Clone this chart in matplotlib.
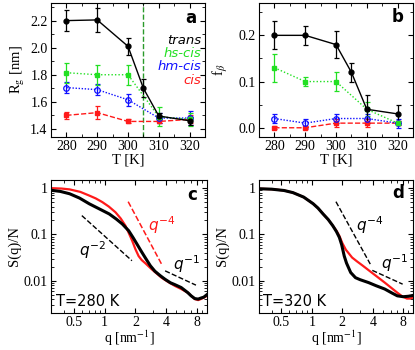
import matplotlib
matplotlib.use("Agg")
import numpy as np
from matplotlib import pyplot as plt
from matplotlib.ticker import MultipleLocator, FixedLocator, NullFormatter, LogLocator

plt.rcParams['font.family'] = ['Liberation Serif', 'DejaVu Serif']
plt.rcParams['mathtext.fontset'] = 'stix'
plt.rcParams['xtick.direction'] = 'in'
plt.rcParams['ytick.direction'] = 'in'

# ---- panel a / b data ----
T = [280, 290, 300, 310, 320]
T_trans = [280, 290, 300, 305, 310, 320]

rg_trans = [2.20, 2.205, 2.01, 1.70, 1.495, 1.46]
rg_trans_err = [0.08, 0.09, 0.065, 0.067, 0.02, 0.03]
rg_hs = [1.815, 1.80, 1.80, 1.49, 1.47]
rg_hs_err = [0.075, 0.075, 0.075, 0.07, 0.05]
rg_hm = [1.705, 1.69, 1.615, 1.48, 1.48]
rg_hm_err = [0.04, 0.04, 0.045, 0.04, 0.05]
rg_cis = [1.50, 1.52, 1.455, 1.455, 1.47]
rg_cis_err = [0.025, 0.05, 0.015, 0.01, 0.03]

fb_trans = [0.20, 0.20, 0.18, 0.12, 0.04, 0.03]
fb_trans_err = [0.03, 0.02, 0.03, 0.02, 0.03, 0.02]
fb_hs = [0.13, 0.10, 0.10, 0.04, 0.01]
fb_hs_err = [0.03, 0.01, 0.02, 0.015, 0.005]
fb_hm = [0.02, 0.01, 0.02, 0.02, 0.01]
fb_hm_err = [0.01, 0.01, 0.01, 0.01, 0.01]
fb_cis = [0.0, 0.0, 0.01, 0.01, 0.01]
fb_cis_err = [0.003, 0.003, 0.008, 0.008, 0.005]

# ---- panel c (T=280 K) ----
q_c_black = [0.3, 0.37, 0.456, 0.57, 0.71, 0.88, 1.11, 1.3, 1.49, 1.72, 1.9, 2.07, 2.27, 2.49,
             2.8, 3.1, 3.5, 3.9, 4.4, 4.86, 5.6, 6.5, 7.0, 7.6, 8.2, 8.7, 9.3, 10.0]
s_c_black = [0.90, 0.85, 0.756, 0.61, 0.458, 0.36, 0.277, 0.215, 0.168, 0.12, 0.085, 0.062, 0.044, 0.0316,
             0.021, 0.016, 0.0128, 0.0107, 0.0090, 0.0082, 0.0071, 0.0055, 0.0047, 0.0041, 0.0040, 0.0042, 0.0044, 0.0050]
q_c_red = [0.3, 0.38, 0.456, 0.58, 0.71, 0.82, 0.95, 1.1, 1.28, 1.44, 1.6, 1.73, 1.86, 2.0, 2.15,
           2.3, 2.49, 2.88, 3.6, 4.2, 4.86, 5.6, 6.5, 7.0, 7.6, 8.2, 8.7, 9.3, 10.0]
s_c_red = [1.0, 0.98, 0.94, 0.83, 0.69, 0.6, 0.50, 0.40, 0.30, 0.22, 0.154, 0.105, 0.073, 0.048, 0.034,
           0.028, 0.024, 0.0177, 0.0116, 0.0093, 0.0077, 0.0066, 0.0055, 0.0047, 0.0040, 0.0038, 0.0040, 0.0043, 0.0047]

# ---- panel d (T=320 K) ----
q_d_black = [0.3, 0.4, 0.53, 0.65, 0.83, 1.03, 1.15, 1.29, 1.45, 1.61, 1.75, 1.87, 1.97, 2.09, 2.2,
             2.42, 2.7, 3.0, 3.63, 4.3, 5.25, 6.2, 7.0, 8.0, 9.0, 10.0]
s_d_black = [0.97, 0.95, 0.89, 0.80, 0.64, 0.46, 0.37, 0.277, 0.21, 0.154, 0.115, 0.086, 0.060, 0.034, 0.024,
             0.015, 0.0116, 0.0105, 0.0091, 0.0078, 0.0066, 0.0054, 0.0047, 0.0045, 0.0046, 0.0048]
q_d_red = [0.3, 0.4, 0.53, 0.65, 0.83, 1.03, 1.15, 1.29, 1.45, 1.61, 1.75, 1.87, 2.0, 2.17, 2.5,
           2.8, 3.13, 3.5, 3.9, 4.5, 5.25, 6.0, 7.0, 7.8, 8.7, 9.3, 10.0]
s_d_red = [0.97, 0.95, 0.89, 0.80, 0.64, 0.46, 0.37, 0.277, 0.21, 0.154, 0.12, 0.093, 0.065, 0.0465, 0.0316,
           0.026, 0.0217, 0.018, 0.015, 0.0118, 0.0091, 0.0072, 0.0055, 0.0046, 0.0041, 0.0041, 0.0043]

# guide lines (end points)
q_m2 = [0.6, 1.85]
s_m2 = [0.255, 0.027]
q_m4c = [1.7, 3.6]
s_m4c = [0.51, 0.0228]
q_m1c = [3.9, 7.8]
s_m1c = [0.0163, 0.0080]
q_m4d = [1.73, 3.78]
s_m4d = [0.51, 0.0228]
q_m1d = [3.96, 7.9]
s_m1d = [0.0167, 0.0084]

GREEN = '#22e022'
BLUE = '#1010ff'
RED = '#ff1a1a'
SANS = dict(family='DejaVu Sans', math_fontfamily='dejavusans')

fig = plt.figure(figsize=(4.15, 3.5), dpi=100)
W, H = 415.0, 350.0
def box(l, r, t, b):
    return [l / W, 1 - b / H, (r - l) / W, (b - t) / H]

ax_a = fig.add_axes(box(51, 205, 3, 137))
ax_b = fig.add_axes(box(259, 413, 3, 137))
ax_c = fig.add_axes(box(51, 207, 180, 313))
ax_d = fig.add_axes(box(259, 413, 180, 313))

eb = dict(capsize=1.8, elinewidth=0.9, capthick=0.9)

def temp_panel(ax, tr, tre, hs, hse, hm, hme, ci, cie):
    ax.errorbar(T, ci, yerr=cie, color=RED, ls='--', lw=1.0, marker='s', ms=3, **eb)
    ax.errorbar(T, hm, yerr=hme, color=BLUE, ls=(0, (1, 1.2)), lw=1.0, marker='o', ms=4,
                mfc='none', mew=0.9, **eb)
    ax.errorbar(T, hs, yerr=hse, color=GREEN, ls=(0, (1, 1.5)), lw=1.0, marker='s', ms=2.5, **eb)
    ax.errorbar(T_trans, tr, yerr=tre, color='black', ls='-', lw=1.0, marker='o', ms=3.5, **eb)
    ax.set_xlim(275, 325)
    ax.xaxis.set_major_locator(MultipleLocator(10))
    ax.xaxis.set_minor_locator(MultipleLocator(5))
    ax.set_xlabel('T [K]', fontsize=10.5, labelpad=0)
    ax.tick_params(which='both', top=True, right=True, labelsize=10, pad=2.5)
    ax.tick_params(which='major', length=3.5)
    ax.tick_params(which='minor', length=2)

temp_panel(ax_a, rg_trans, rg_trans_err, rg_hs, rg_hs_err, rg_hm, rg_hm_err, rg_cis, rg_cis_err)
ax_a.axvline(305, color='#2a9a2a', ls='--', lw=1.0, zorder=0)
ax_a.set_ylim(1.34, 2.33)
ax_a.yaxis.set_major_locator(MultipleLocator(0.2))
ax_a.yaxis.set_minor_locator(MultipleLocator(0.1))
ax_a.yaxis.set_major_formatter(matplotlib.ticker.FormatStrFormatter('%.1f'))
ax_a.set_ylabel(r'R$_\mathrm{g}$ [nm]', fontsize=10.5, labelpad=2)
for txt, col, y in [('trans', 'black', 40.0), ('hs-cis', GREEN, 53.5), ('hm-cis', BLUE, 66.5), ('cis', RED, 80.0)]:
    fig.text(201 / W, 1 - y / H, txt, color=col, ha='right', va='center', style='italic',
             fontsize=9.5, **SANS)
fig.text(191 / W, 1 - 18 / H, 'a', fontsize=12, fontweight='bold', ha='center', va='center', **SANS)

temp_panel(ax_b, fb_trans, fb_trans_err, fb_hs, fb_hs_err, fb_hm, fb_hm_err, fb_cis, fb_cis_err)
ax_b.set_ylim(-0.02, 0.27)
ax_b.yaxis.set_major_locator(MultipleLocator(0.1))
ax_b.yaxis.set_minor_locator(MultipleLocator(0.05))
ax_b.yaxis.set_major_formatter(matplotlib.ticker.FormatStrFormatter('%.1f'))
ax_b.set_ylabel(r'f$_\beta$', fontsize=10.5, labelpad=6)
fig.text(398 / W, 1 - 17 / H, 'b', fontsize=12, fontweight='bold', ha='center', va='center', **SANS)

def sq_panel(ax):
    ax.set_xscale('log')
    ax.set_yscale('log')
    ax.set_xlim(0.3, 10)
    ax.set_ylim(0.002, 1.5)
    ax.xaxis.set_major_locator(FixedLocator([0.5, 1, 2, 4, 8]))
    ax.xaxis.set_major_formatter(matplotlib.ticker.FixedFormatter(['0.5', '1', '2', '4', '8']))
    ax.xaxis.set_minor_locator(LogLocator(base=10, subs=np.arange(1, 10) * 1.0))
    ax.xaxis.set_minor_formatter(NullFormatter())
    ax.yaxis.set_major_locator(FixedLocator([0.01, 0.1, 1]))
    ax.yaxis.set_major_formatter(matplotlib.ticker.FixedFormatter(['0.01', '0.1', '1']))
    ax.yaxis.set_minor_locator(LogLocator(base=10, subs=np.arange(2, 10) * 1.0))
    ax.yaxis.set_minor_formatter(NullFormatter())
    ax.tick_params(which='both', top=True, right=True, labelsize=10, pad=2.5)
    ax.tick_params(which='major', length=3.5)
    ax.tick_params(which='minor', length=2)
    ax.set_xlabel(r'q [nm$^{-1}$]', fontsize=10, labelpad=-1)
    ax.set_ylabel('S(q)/N', fontsize=10.5, labelpad=2)

sq_panel(ax_c)
ax_c.plot(q_c_red, s_c_red, color=RED, lw=1.6)
ax_c.plot(q_c_black, s_c_black, color='black', lw=2.2)
ax_c.plot(q_m2, s_m2, color='black', ls='--', lw=1.0)
ax_c.plot(q_m4c, s_m4c, color=RED, ls='--', lw=1.1)
ax_c.plot(q_m1c, s_m1c, color='black', ls='--', lw=1.0)
fig.text(93 / W, 1 - 250 / H, r'$q^{-2}$', fontsize=11, ha='center', va='center', **SANS)
fig.text(162 / W, 1 - 225 / H, r'$q^{-4}$', color=RED, fontsize=11, ha='center', va='center', **SANS)
fig.text(187 / W, 1 - 264 / H, r'$q^{-1}$', fontsize=11, ha='center', va='center', **SANS)
fig.text(56 / W, 1 - 301 / H, 'T=280 K', fontsize=10.5, ha='left', va='center', **SANS)
fig.text(192 / W, 1 - 195 / H, 'c', fontsize=12, fontweight='bold', ha='center', va='center', **SANS)

sq_panel(ax_d)
ax_d.plot(q_d_red, s_d_red, color=RED, lw=1.6)
ax_d.plot(q_d_black, s_d_black, color='black', lw=2.2)
ax_d.plot(q_m4d, s_m4d, color='black', ls='--', lw=1.0)
ax_d.plot(q_m1d, s_m1d, color='black', ls='--', lw=1.0)
fig.text(370 / W, 1 - 225 / H, r'$q^{-4}$', fontsize=11, ha='center', va='center', **SANS)
fig.text(395 / W, 1 - 263 / H, r'$q^{-1}$', fontsize=11, ha='center', va='center', **SANS)
fig.text(263 / W, 1 - 302 / H, 'T=320 K', fontsize=10.5, ha='left', va='center', **SANS)
fig.text(398 / W, 1 - 193 / H, 'd', fontsize=12, fontweight='bold', ha='center', va='center', **SANS)

fig.savefig('out.png', dpi=100)
